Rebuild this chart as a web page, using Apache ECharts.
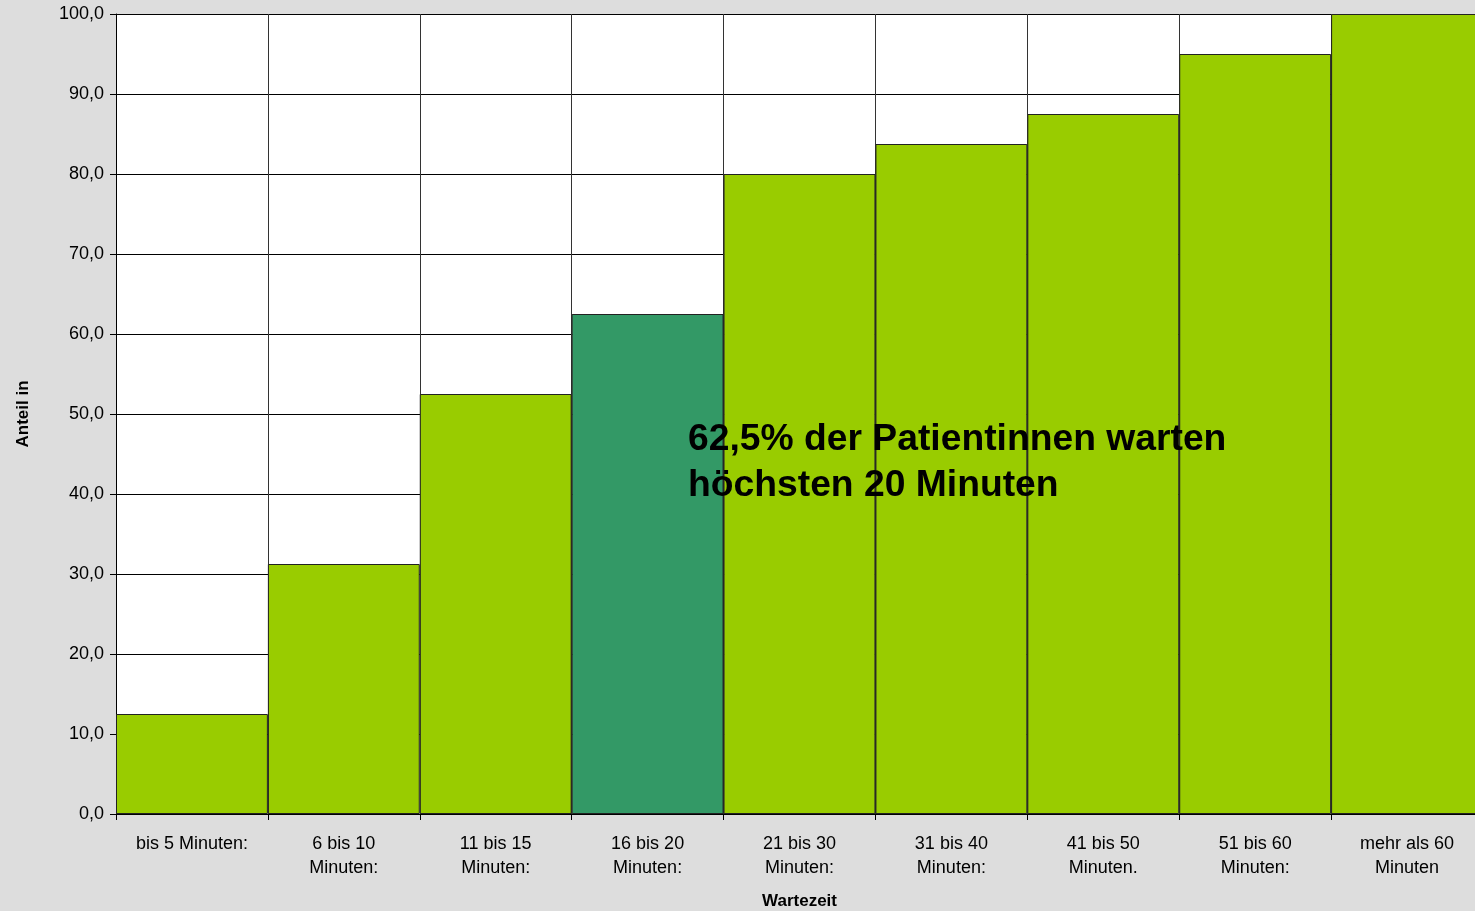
<!DOCTYPE html>
<html>
<head>
    <meta charset="UTF-8">
    <title>Wartezeit</title>
    <script src="https://cdn.jsdelivr.net/npm/echarts@6/dist/echarts.min.js"></script>
    <style>
        html, body { margin: 0; padding: 0; background: #dddddd; }
        #chart { width: 1475px; height: 911px; }
    </style>
</head>
<body>
<div id="chart"></div>
<script type="text/javascript">
    // Kategorien und kumulierte Anteile
    const categories = [
        'bis 5 Minuten:', '6 bis 10\nMinuten:', '11 bis 15\nMinuten:', '16 bis 20\nMinuten:',
        '21 bis 30\nMinuten:', '31 bis 40\nMinuten:', '41 bis 50\nMinuten.', '51 bis 60\nMinuten:',
        'mehr als 60\nMinuten'
    ];
    const anteil = [12.5, 31.25, 52.5, 62.5, 80.0, 83.75, 87.5, 95.0, 100.0];
    const highlightIndex = 3;
    const yTicks = { min: 0, max: 100, interval: 10 };

    let chart = echarts.init(document.getElementById('chart'));

    let option = {
        backgroundColor: '#dddddd',
        animation: false,
        textStyle: { fontFamily: 'Liberation Sans, Arial, sans-serif' },
        grid: {
            left: 116, right: -8, top: 14, bottom: 97,
            outerBoundsMode: 'none',
            show: true, backgroundColor: '#ffffff', borderWidth: 0
        },
        xAxis: {
            type: 'category',
            data: categories,
            name: 'Wartezeit',
            nameLocation: 'middle',
            nameGap: 79,
            nameTextStyle: { fontWeight: 'bold', fontSize: 17, color: '#000' },
            axisLine: { lineStyle: { color: '#000', width: 1 } },
            axisTick: { show: true, length: 6, lineStyle: { color: '#000' } },
            axisLabel: { color: '#000', fontSize: 18, margin: 18, lineHeight: 24, interval: 0 },
            splitLine: { show: true, lineStyle: { color: '#333', width: 1 } }
        },
        yAxis: {
            type: 'value',
            min: yTicks.min,
            max: yTicks.max,
            interval: yTicks.interval,
            name: 'Anteil in',
            nameLocation: 'middle',
            nameGap: 84,
            nameTextStyle: { fontWeight: 'bold', fontSize: 17, color: '#000' },
            axisLine: { show: true, lineStyle: { color: '#000' } },
            axisTick: { show: true, length: 6, lineStyle: { color: '#000' } },
            axisLabel: {
                color: '#000', fontSize: 18, margin: 12,
                formatter: v => v.toFixed(1).replace('.', ',')
            },
            splitLine: { show: true, lineStyle: { color: '#000', width: 1 } }
        },
        series: [{
            type: 'bar',
            barCategoryGap: 0,
            data: anteil.map((v, i) => ({
                value: v,
                itemStyle: { color: i === highlightIndex ? '#339966' : '#99cc00' }
            })),
            itemStyle: { borderColor: '#222', borderWidth: 1 }
        }],
        graphic: [{
            type: 'text',
            left: 688,
            top: 417,
            z: 100,
            scaleX: 1.035,
            style: {
                text: '62,5% der Patientinnen warten\nhöchsten 20 Minuten',
                font: 'bold 36px "Liberation Sans", Arial, sans-serif',
                fill: '#000',
                lineHeight: 46
            }
        }]
    };
    chart.setOption(option);
</script>
</body>
</html>
